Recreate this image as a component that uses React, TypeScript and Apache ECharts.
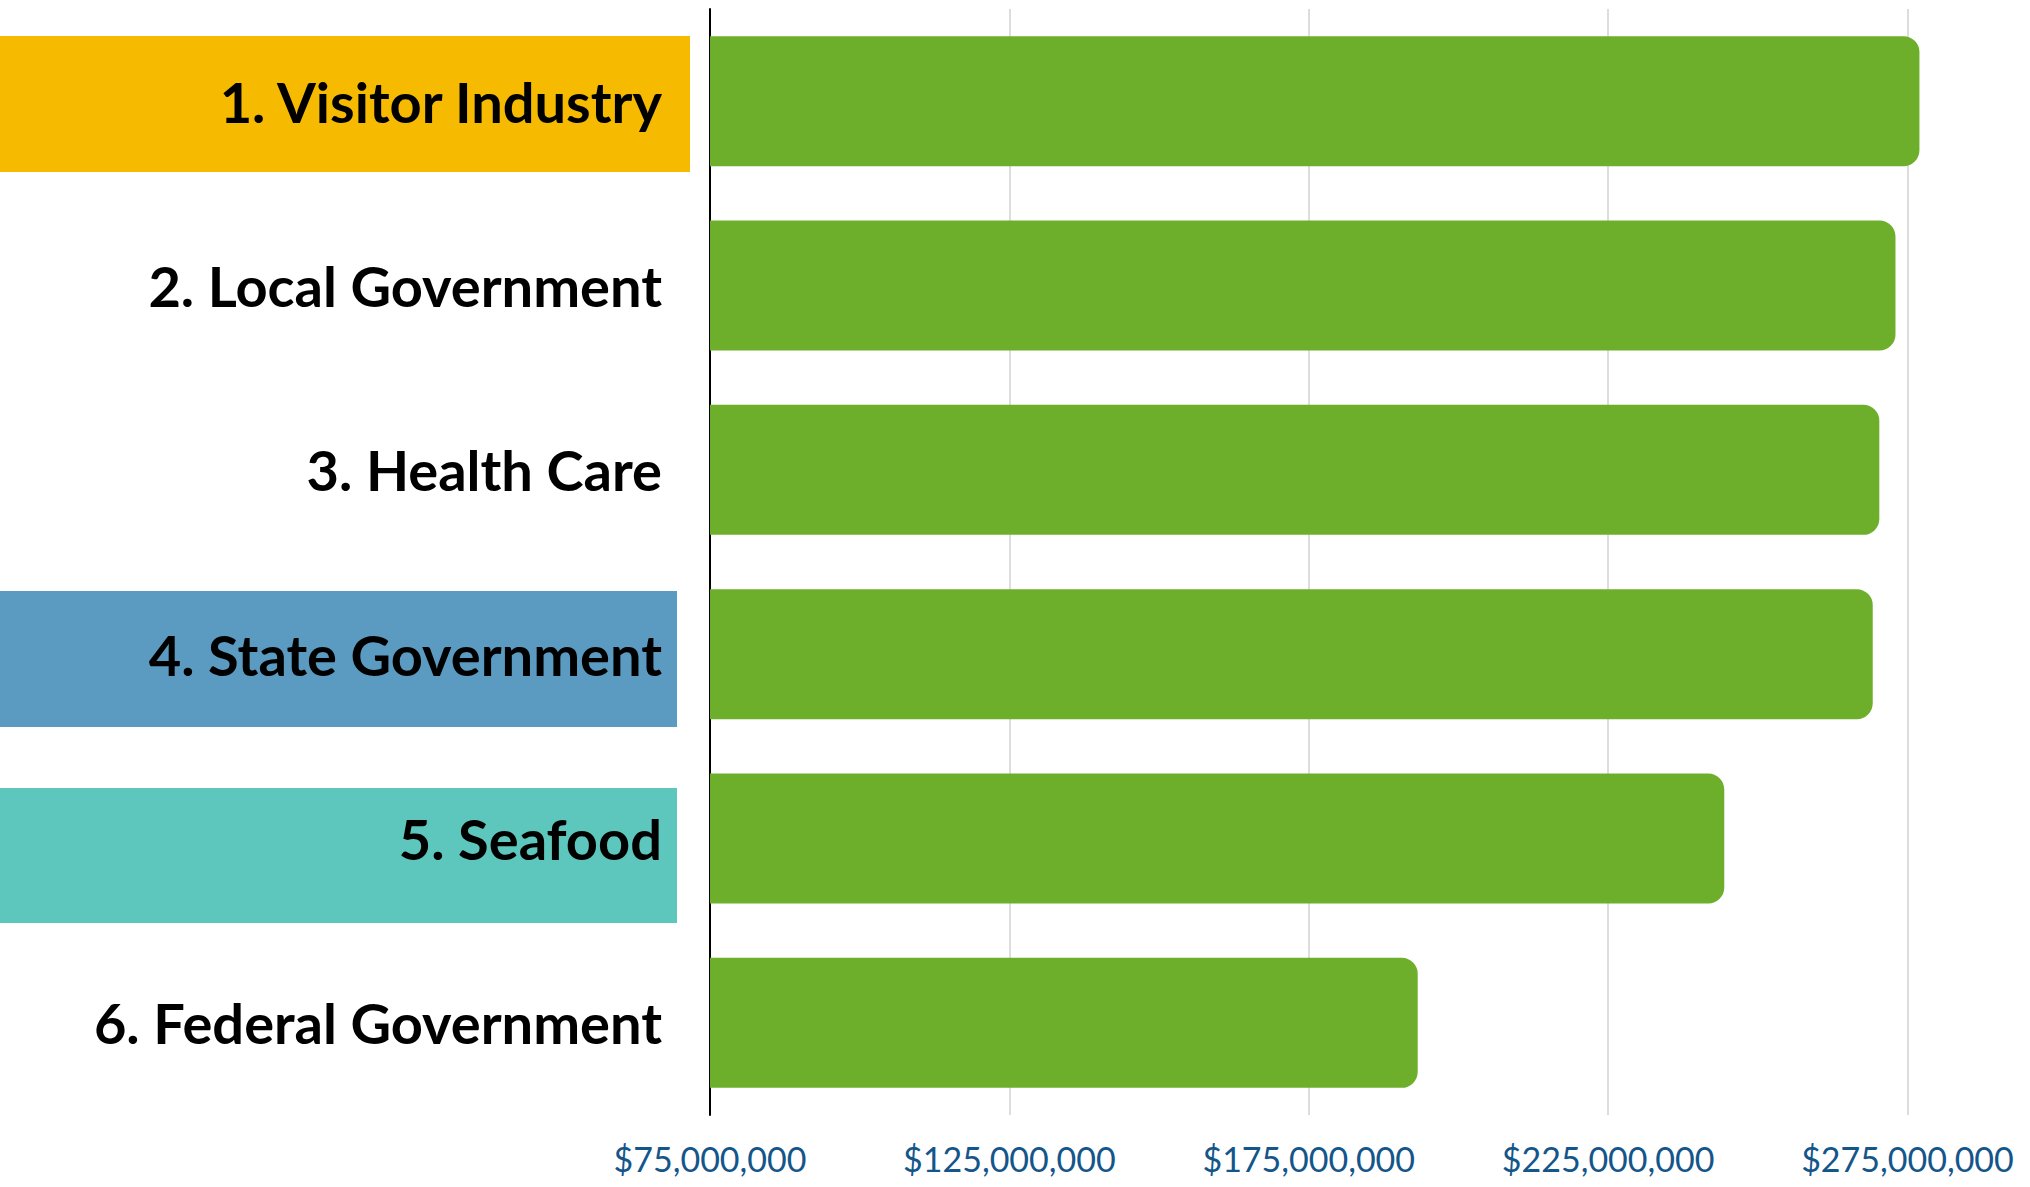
import React, { useEffect, useRef } from "react";
import * as echarts from "echarts";

const categories = [
  "1. Visitor Industry",
  "2. Local Government",
  "3. Health Care",
  "4. State Government",
  "5. Seafood",
  "6. Federal Government",
];
const values = [277000000, 273000000, 270300000, 269200000, 244400000, 193200000];
const tickValues = [75000000, 125000000, 175000000, 225000000, 275000000];
const axisMax = 280000000;
const highlightColors: Record<string, string> = {
  "1. Visitor Industry": "#F6BA00",
  "4. State Government": "#5B9BC1",
  "5. Seafood": "#5DC7BE",
};

export default function App() {
  const ref = useRef<HTMLDivElement>(null);
  useEffect(() => {
    if (!ref.current) return;
    const chart = echarts.init(ref.current, undefined, { renderer: "svg" });
    const interval = tickValues[1] - tickValues[0];
    chart.setOption({
      animation: false,
      backgroundColor: "#ffffff",
      grid: { left: 710, right: 92.6, top: 9, bottom: 72, containLabel: false },
      xAxis: {
        type: "value",
        min: tickValues[0],
        max: axisMax,
        interval,
        axisLine: { show: false },
        axisTick: { show: false },
        splitLine: {
          show: true,
          showMaxLine: false,
          lineStyle: { color: "#d2d2d2", width: 1.5 },
        },
        axisLabel: {
          margin: 26,
          showMaxLabel: false,
          color: "#14568A",
          fontFamily: "Lato",
          fontSize: 34,
          formatter: (v: number) => "$" + v.toLocaleString("en-US"),
        },
      },
      yAxis: {
        type: "category",
        data: categories,
        inverse: true,
        axisLine: { show: true, lineStyle: { color: "#000000", width: 2 } },
        axisTick: { show: false },
        axisLabel: {
          margin: 48,
          color: "#000000",
          fontFamily: "Lato",
          fontWeight: "bold",
          fontSize: 56,
          lineHeight: 56,
          padding: [0, 0, 14, 0],
        },
      },
      graphic: [
        { type: "rect", z: -10, shape: { x: 0, y: 36, width: 690, height: 136 }, style: { fill: highlightColors["1. Visitor Industry"] } },
        { type: "rect", z: -10, shape: { x: 0, y: 591, width: 677, height: 136 }, style: { fill: highlightColors["4. State Government"] } },
        { type: "rect", z: -10, shape: { x: 0, y: 788, width: 677, height: 135 }, style: { fill: highlightColors["5. Seafood"] } },
      ],
      series: [
        {
          type: "bar",
          data: values,
          barWidth: 130,
          itemStyle: { color: "#6DAF2A", borderRadius: [0, 16, 16, 0] },
          z: 3,
        },
      ],
    });
    return () => chart.dispose();
  }, []);
  return (
    <div
      ref={ref}
      style={{ position: "absolute", left: 0, top: 0, width: 2030, height: 1187 }}
    />
  );
}
